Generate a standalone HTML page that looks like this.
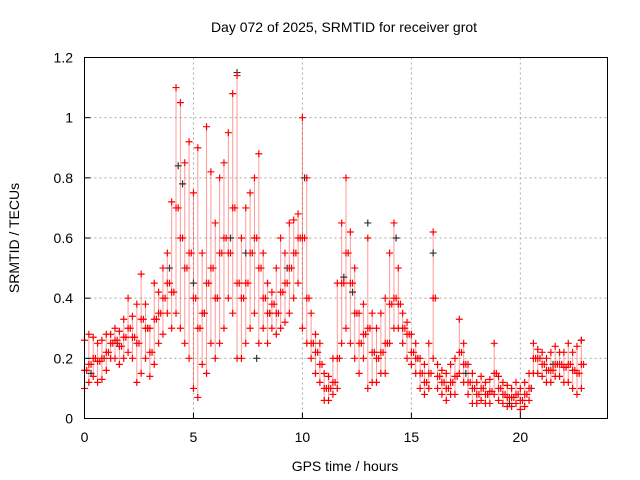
<!DOCTYPE html>
<html><head><meta charset="utf-8">
<style>
body{margin:0;background:#fff;}
svg{display:block;font-family:"Liberation Sans",sans-serif;}
</style></head>
<body>
<svg id="chart" width="640" height="480">
<g id="grid"></g>
<g id="range"></g>
<g id="black"></g>
<g id="red"></g>
<rect x="84.5" y="57.5" width="523" height="361" fill="none" stroke="#000" stroke-width="1"/>
<g id="axes"></g>
<text x="344" y="32" font-size="14" text-anchor="middle">Day 072 of 2025, SRMTID for receiver grot</text>
<text x="345" y="471" font-size="14" text-anchor="middle">GPS time / hours</text>
<text transform="translate(19,238) rotate(-90)" font-size="14" text-anchor="middle">SRMTID / TECUs</text>
</svg>
<script>
const xTicks=[0,5,10,15,20];
const yTicks=[0,0.2,0.4,0.6,0.8,1,1.2];
const yTickLabels=["0","0.2","0.4","0.6","0.8","1","1.2"];
const times=[0,0.2,0.4,0.6,0.8,1,1.2,1.4,1.6,1.8,2,2.2,2.4,2.6,2.8,3,3.2,3.4,3.6,3.8,4,4.2,4.4,4.6,4.8,5,5.2,5.4,5.6,5.8,6,6.2,6.4,6.6,6.8,7,7.2,7.4,7.6,7.8,8,8.2,8.4,8.6,8.8,9,9.2,9.4,9.6,9.8,10,10.2,10.4,10.6,10.8,11,11.2,11.4,11.6,11.8,12,12.2,12.4,12.6,12.8,13,13.2,13.4,13.6,13.8,14,14.2,14.4,14.6,14.8,15,15.2,15.4,15.6,15.8,16,16.2,16.4,16.6,16.8,17,17.2,17.4,17.6,17.8,18,18.2,18.4,18.6,18.8,19,19.2,19.4,19.6,19.8,20,20.2,20.4,20.6,20.8,21,21.2,21.4,21.6,21.8,22,22.2,22.4,22.6,22.8];
const loVals=[.10,.12,.14,.12,.13,.16,.20,.20,.18,.20,.22,.20,.12,.15,.20,.14,.18,.25,.28,.35,.30,.35,.30,.25,.20,.10,.07,.18,.15,.25,.20,.25,.30,.40,.35,.20,.20,.25,.30,.35,.25,.30,.25,.30,.28,.30,.32,.35,.40,.45,.30,.25,.20,.15,.12,.06,.06,.08,.10,.25,.30,.25,.20,.15,.20,.10,.12,.12,.15,.15,.25,.30,.30,.25,.20,.18,.15,.10,.08,.10,.20,.10,.08,.06,.08,.08,.15,.12,.08,.05,.05,.06,.05,.05,.08,.06,.05,.04,.04,.05,.03,.04,.06,.15,.15,.14,.12,.12,.14,.14,.12,.12,.10,.08,.10];
const midVals=[.16,.18,.20,.19,.20,.22,.25,.26,.24,.27,.30,.27,.25,.33,.30,.22,.33,.35,.40,.45,.42,.70,.60,.50,.55,.40,.30,.35,.45,.50,.40,.55,.60,.55,.70,.45,.40,.45,.55,.60,.50,.40,.35,.38,.35,.42,.45,.50,.55,.60,.60,.40,.25,.22,.18,.10,.10,.12,.20,.45,.55,.45,.35,.25,.28,.30,.22,.20,.22,.25,.38,.40,.38,.30,.28,.22,.20,.15,.12,.15,.40,.14,.12,.10,.12,.14,.22,.18,.12,.10,.08,.10,.08,.09,.15,.10,.08,.07,.07,.08,.06,.08,.10,.20,.20,.18,.16,.16,.18,.18,.17,.18,.16,.15,.18];
const hiVals=[.26,.28,.27,.25,.26,.28,.28,.30,.29,.33,.40,.34,.38,.48,.38,.30,.45,.42,.50,.55,.72,1.10,1.05,.85,.92,.75,.90,.55,.97,.82,.65,.80,.85,.95,1.08,1.14,.60,.70,.75,.80,.88,.55,.45,.42,.50,.60,.55,.65,.66,.68,1.00,.80,.35,.28,.25,.15,.14,.20,.45,.65,.80,.62,.50,.35,.38,.60,.35,.30,.35,.40,.55,.65,.50,.35,.32,.28,.25,.20,.18,.25,.62,.18,.16,.15,.18,.20,.33,.25,.18,.15,.12,.14,.12,.13,.25,.14,.12,.11,.10,.12,.10,.12,.15,.25,.23,.22,.20,.22,.24,.22,.22,.25,.22,.24,.26];
const blackTimes=[0.3,1.5,2.9,3.9,4.3,4.5,5.0,5.5,6.1,6.7,7.0,7.4,7.9,8.5,9.3,10.1,11.9,12.3,13.0,14.3,15.3,16.0,17.5,18.5,19.5,20.5,21.5,22.8];
const blackVals=[.15,.25,.30,.50,.84,.78,.45,.35,.40,.60,1.15,.55,.20,.35,.50,.80,.47,.42,.65,.60,.20,.55,.15,.08,.05,.10,.18,.26];

const X=t=>84.5+t*(523/24);
const Y=v=>418.5-v*(361/1.2);
const NS="http://www.w3.org/2000/svg";
function mk(tag,attrs,parent){const e=document.createElementNS(NS,tag);for(const k in attrs)e.setAttribute(k,attrs[k]);parent.appendChild(e);return e;}
const grid=document.getElementById('grid'),axes=document.getElementById('axes');
xTicks.forEach((t,i)=>{
  const x=X(t);
  if(t>0){const g=mk('line',{x1:x,x2:x,y1:57.5,y2:418.5,stroke:'#aaa','stroke-dasharray':'2,3'},grid);
  
  }
  const tk=mk('line',{x1:x,x2:x,y1:418.5,y2:412.5,stroke:'#000'},axes);
  
  
  const tx=mk('text',{x:x,y:442,'font-size':14,'text-anchor':'middle'},axes);tx.textContent=String(t);
  
  
});
yTicks.forEach((v,i)=>{
  const y=Y(v);
  if(v>0&&v<1.2){const g=mk('line',{x1:84.5,x2:607.5,y1:y,y2:y,stroke:'#aaa','stroke-dasharray':'2,3'},grid);
  
  }
  const tk=mk('line',{x1:84.5,x2:90.5,y1:y,y2:y,stroke:'#000'},axes);
  
  
  const tx=mk('text',{x:73,y:y+5,'font-size':14,'text-anchor':'end'},axes);tx.textContent=yTickLabels[i];
  
  
});
function plus(g,t,v,col){
  const x=X(t),y=Y(v);
  const p=mk('path',{d:`M${x-3.5},${y}H${x+3.5}M${x},${y-3.5}V${y+3.5}`,stroke:col,'stroke-width':1.2,fill:'none'},g);
  
  
}
const red=document.getElementById('red'),black=document.getElementById('black'),range=document.getElementById('range');
times.forEach((t,i)=>{
  const l=mk('line',{x1:X(t),x2:X(t),y1:Y(loVals[i]),y2:Y(hiVals[i]),stroke:'#f00','stroke-width':1,opacity:0.4},range);
  
  
  plus(red,t,loVals[i],'#f00');
  plus(red,t,midVals[i],'#f00');
  plus(red,t,hiVals[i],'#f00');
  plus(red,t+0.1,midVals[i],'#f00');
});
blackTimes.forEach((t,i)=>plus(black,t,blackVals[i],'#333'));
</script>
</body></html>
